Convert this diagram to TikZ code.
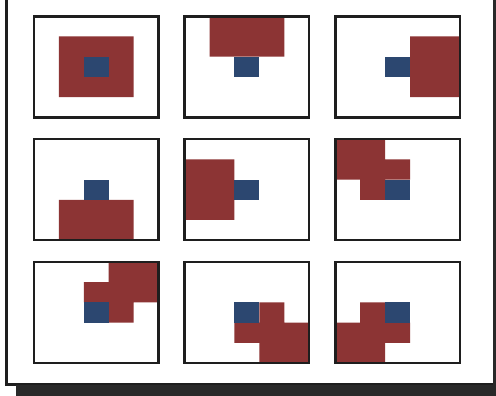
\documentclass[tikz,border=0pt]{standalone}
\usepackage{tikz}
\definecolor{gridRed}{HTML}{8C3434}
\definecolor{gridBlue}{HTML}{2C4770}
\definecolor{gridInk}{HTML}{1E1E1E}
\tikzset{
  panel/.style   ={draw=gridInk,line width=2.6pt},
  redcell/.style ={fill=gridRed},
  bluecell/.style={fill=gridBlue},
  frameline/.style={draw=gridInk,line width=3pt},
  shadow/.style  ={fill=gridInk!95},
}

\begin{document}
\begin{tikzpicture}[x=1pt,y=-1pt]
\useasboundingbox (0,0) rectangle (496,396);
% outer frame with drop shadow
\fill[white] (6.5,-4) rectangle (494,384.5);
\draw[frameline] (6.5,-4) |- (494,384.5) -- (494,-4);
\fill[shadow] (16,385) rectangle (500,400);
\fill[shadow] (492.5,-4) rectangle (500,400);
% 3x3 panels, each a 5x5 grid with the blue cell fixed at (2,2)
\foreach \i/\j/\cells in {
  0/0/{1/1,2/1,3/1,1/2,2/2,3/2,1/3,2/3,3/3},
  1/0/{1/0,2/0,3/0,1/1,2/1,3/1},
  2/0/{3/1,4/1,3/2,4/2,3/3,4/3},
  0/1/{1/3,2/3,3/3,1/4,2/4,3/4},
  1/1/{0/1,1/1,0/2,1/2,0/3,1/3},
  2/1/{0/0,1/0,0/1,1/1,2/1,1/2},
  0/2/{3/0,4/0,2/1,3/1,4/1,3/2},
  1/2/{3/2,2/3,3/3,4/3,3/4,4/4},
  2/2/{1/2,0/3,1/3,2/3,0/4,1/4}}
{
  \begin{scope}[shift={({34+150.65*\i},{16.3+122.85*\j})},x=24.9pt,y=-20.2pt]
    \fill[redcell] \foreach \c/\r in \cells {(\c,\r) rectangle ++(1,1)};
    \fill[bluecell] (2,2) rectangle (3,3);
    \draw[panel] (0,0) rectangle (5,5);
  \end{scope}
}
\end{tikzpicture}
\end{document}
